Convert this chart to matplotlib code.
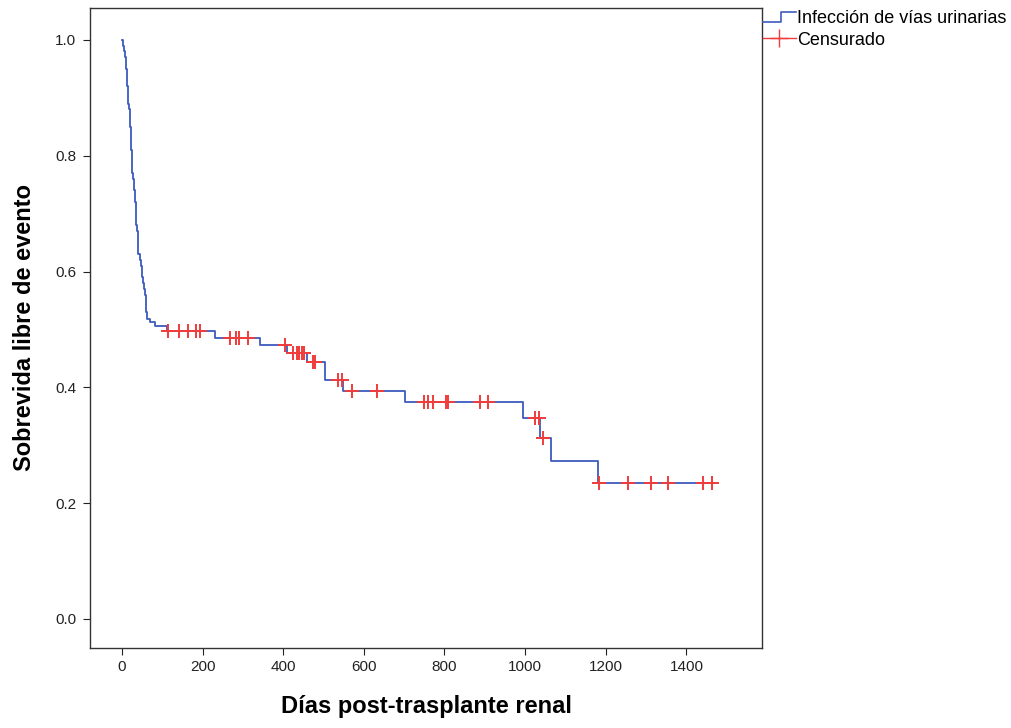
import numpy as np
import matplotlib
matplotlib.use('Agg')
import matplotlib.pyplot as plt
from matplotlib.lines import Line2D
from matplotlib.legend_handler import HandlerBase

plt.rcParams['font.family'] = ['Liberation Sans', 'DejaVu Sans']

# Kaplan-Meier steps (day, survival after event)
event_days = [0, 3, 6, 9, 11, 12, 13, 14, 15, 16, 18, 19, 20, 21, 22, 23, 24,
              26, 27, 29, 30, 32, 34, 35, 36, 37, 39, 41, 44, 47, 49, 51, 52,
              54, 57, 59, 60, 61, 62, 70, 82, 112, 231, 342, 409, 458, 504,
              548, 702, 994, 1037, 1064, 1180, 1469]
survival = [1.0, 0.99, 0.98, 0.97, 0.95, 0.94, 0.93, 0.92, 0.90, 0.89, 0.88,
            0.87, 0.86, 0.85, 0.83, 0.81, 0.79, 0.77, 0.76, 0.75, 0.74, 0.72,
            0.71, 0.70, 0.68, 0.67, 0.65, 0.63, 0.62, 0.61, 0.60, 0.59, 0.58,
            0.57, 0.56, 0.55, 0.54, 0.53, 0.518, 0.512, 0.506, 0.498, 0.485,
            0.473, 0.459, 0.444, 0.412, 0.393, 0.374, 0.347, 0.312, 0.273,
            0.234, 0.234]

censored_days = [115, 142, 165, 185, 194, 268, 284, 291, 313, 404, 425, 434,
                 440, 446, 452, 475, 480, 537, 545, 570, 632, 748, 760, 772,
                 803, 808, 888, 909, 1025, 1035, 1044, 1182, 1256, 1313, 1355,
                 1442, 1464]

xticks = [0, 200, 400, 600, 800, 1000, 1200, 1400]
yticks = [0.0, 0.2, 0.4, 0.6, 0.8, 1.0]

blue = '#3d5bbd'
red = '#f03c3c'

# survival value at each censored time
ed = np.array(event_days)
sv = np.array(survival)
censored_surv = [sv[np.searchsorted(ed, d, side='right') - 1] for d in censored_days]


class StepHandler(HandlerBase):
    def create_artists(self, legend, orig_handle, xdescent, ydescent,
                       width, height, fontsize, trans):
        y0 = height * 0.1
        y1 = height * 0.9
        xs = [0, width * 0.55, width * 0.55, width]
        ys = [y0, y0, y1, y1]
        ln = Line2D(xs, ys, color=blue, lw=1.2, transform=trans)
        return [ln]


fig = plt.figure(figsize=(10.11, 7.28), dpi=100)
ax = fig.add_axes([0.089, 0.110, 0.665, 0.879])

ax.plot(event_days, survival, drawstyle='steps-post', color=blue, lw=1.3)
ax.plot(censored_days, censored_surv, ls='none', marker='+', color=red,
        markersize=10, markeredgewidth=1.4)

ax.set_xlim(-79, 1588)
ax.set_ylim(-0.05, 1.055)
ax.set_xticks(xticks)
ax.set_yticks(yticks)
ax.set_yticklabels(['%.1f' % t for t in yticks])
ax.tick_params(direction='out', length=5, width=0.8, labelsize=11,
               colors='#222222')
ax.tick_params(axis='y', pad=5)
ax.tick_params(axis='x', pad=4)
for s in ax.spines.values():
    s.set_color('#333333')
    s.set_linewidth(1.0)

ax.set_xlabel('Días post-trasplante renal', fontsize=17, fontweight='bold',
              labelpad=15)
ax.set_ylabel('Sobrevida libre de evento', fontsize=17, fontweight='bold',
              labelpad=14)

h_line = Line2D([], [], color=blue)
h_cens = Line2D([], [], color=red, marker='+', markersize=13, lw=1)
fig.legend([h_line, h_cens], ['Infección de vías urinarias', 'Censurado'],
           handler_map={h_line: StepHandler()},
           loc='upper left', bbox_to_anchor=(763 / 1011, 1 - 10 / 728),
           frameon=False, fontsize=13, handlelength=1.8, handletextpad=0.1,
           borderpad=0, borderaxespad=0, labelspacing=0.25)

fig.savefig('out.png', dpi=100)
